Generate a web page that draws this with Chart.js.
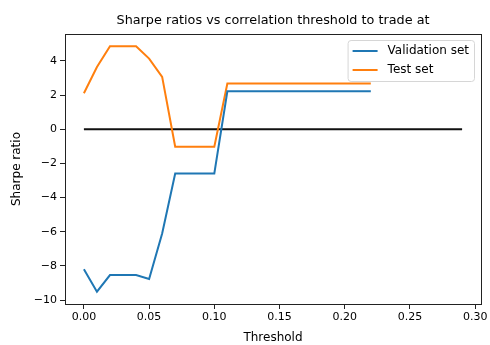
<!DOCTYPE html>
<html><head><meta charset="utf-8">
<script src="https://cdn.jsdelivr.net/npm/chart.js@4"></script>
<style>html,body{margin:0;padding:0;background:#fff}#c{display:block}</style>
</head><body>
<canvas id="c" width="490" height="345"></canvas>
<script>
const chartTitle = "Sharpe ratios vs correlation threshold to trade at";
const xLabel = "Threshold";
const yLabel = "Sharpe ratio";
const thresholds = [0,0.01,0.02,0.03,0.04,0.05,0.06,0.07,0.08,0.09,0.10,0.11,0.12,0.13,0.14,0.15,0.16,0.17,0.18,0.19,0.20,0.21,0.22];
const validation = [-8.2,-9.51,-8.54,-8.54,-8.54,-8.77,-6.1,-2.59,-2.59,-2.59,-2.59,2.22,2.22,2.22,2.22,2.22,2.22,2.22,2.22,2.22,2.22,2.22,2.22];
const testSet = [2.1,3.64,4.85,4.85,4.85,4.13,3.06,-1.03,-1.03,-1.03,-1.03,2.67,2.67,2.67,2.67,2.67,2.67,2.67,2.67,2.67,2.67,2.67,2.67];
const zeroLineX = [0, 0.29];
const zeroLineY = [0, 0];
const xTicks = [0,0.05,0.10,0.15,0.20,0.25,0.30];
const yTicks = [-10,-8,-6,-4,-2,0,2,4];

const FONT = "'DejaVu Sans', sans-serif";
const pts = (xs, ys) => xs.map((x, i) => ({x: x, y: ys[i]}));

const framePlugin = {
  id: 'frame',
  afterDraw(chart) {
    const {ctx, chartArea: a} = chart;
    ctx.save();
    ctx.strokeStyle = '#222';
    ctx.lineWidth = 1;
    ctx.strokeRect(Math.round(a.left) + 0.5, Math.round(a.top) + 0.5, Math.round(a.right - a.left), Math.round(a.bottom - a.top));
    // title
    ctx.fillStyle = '#000';
    ctx.font = "12.8px " + FONT;
    ctx.textAlign = 'center';
    ctx.textBaseline = 'middle';
    ctx.fillText(chartTitle, (a.left + a.right) / 2, 21);
    // legend
    const items = chart.data.datasets.filter(d => d.label);
    ctx.font = "12px " + FONT;
    const tw = Math.max(...items.map(d => ctx.measureText(d.label).width));
    const w = 40 + tw + 5;
    const h = 41;
    const x0 = a.right - 7 - w, y0 = a.top + 6;
    ctx.beginPath();
    if (ctx.roundRect) ctx.roundRect(x0 + 0.5, y0 + 0.5, w, h, 3); else ctx.rect(x0 + 0.5, y0 + 0.5, w, h);
    ctx.fillStyle = 'rgba(255,255,255,0.8)';
    ctx.fill();
    ctx.strokeStyle = '#d6d6d6';
    ctx.stroke();
    items.forEach((d, i) => {
      const yy = y0 + 11 + i * 19;
      ctx.beginPath();
      ctx.strokeStyle = d.borderColor;
      ctx.lineWidth = 2;
      ctx.moveTo(x0 + 5, yy); ctx.lineTo(x0 + 30, yy);
      ctx.stroke();
      ctx.fillStyle = '#000';
      ctx.textAlign = 'left';
      ctx.fillText(d.label, x0 + 40, yy);
    });
    ctx.restore();
  }
};

new Chart(document.getElementById('c'), {
  type: 'line',
  data: {
    datasets: [
      {label: 'Validation set', data: pts(thresholds, validation), borderColor: '#1f77b4', borderWidth: 2, pointRadius: 0, tension: 0, fill: false},
      {label: 'Test set', data: pts(thresholds, testSet), borderColor: '#ff7f0e', borderWidth: 2, pointRadius: 0, tension: 0, fill: false},
      {label: '', data: pts(zeroLineX, zeroLineY), borderColor: '#111', borderWidth: 2, pointRadius: 0, tension: 0, fill: false}
    ]
  },
  options: {
    responsive: false,
    animation: false,
    devicePixelRatio: 1,
    layout: {padding: {top: 34, right: 9, left: 0, bottom: 0}},
    plugins: {legend: {display: false}, title: {display: false}, tooltip: {enabled: false}},
    scales: {
      x: {
        type: 'linear', min: -0.0145, max: 0.3045,
        afterBuildTicks: s => { s.ticks = xTicks.map(v => ({value: v})); },
        afterFit: s => { s.height = 41; },
        grid: {drawOnChartArea: false, drawTicks: true, tickLength: 5, color: '#222', tickWidth: 1},
        border: {display: true, color: '#222', width: 1},
        ticks: {color: '#000', font: {family: FONT, size: 11}, padding: 2, maxRotation: 0, autoSkip: false, callback: v => Number(v).toFixed(2)},
        title: {display: true, text: xLabel, color: '#000', font: {family: FONT, size: 12}, padding: {top: 0, bottom: 0}}
      },
      y: {
        type: 'linear', min: -10.23, max: 5.57,
        afterBuildTicks: s => { s.ticks = yTicks.map(v => ({value: v})); },
        afterFit: s => { s.width = 65; },
        grid: {drawOnChartArea: false, drawTicks: true, tickLength: 5, color: '#222', tickWidth: 1},
        border: {display: true, color: '#222', width: 1},
        ticks: {color: '#000', font: {family: FONT, size: 11}, padding: 3, autoSkip: false, callback: v => v < 0 ? '\u2212' + Math.abs(v) : String(v)},
        title: {display: true, text: yLabel, color: '#000', font: {family: FONT, size: 12}, padding: {top: 10, bottom: 0}}
      }
    }
  },
  plugins: [framePlugin]
});
</script>
</body></html>
